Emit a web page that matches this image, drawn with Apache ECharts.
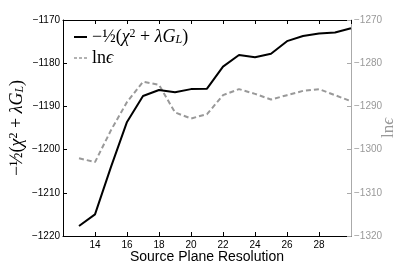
<!DOCTYPE html>
<html>
<head>
<meta charset="utf-8">
<script src="https://cdn.jsdelivr.net/npm/echarts@6/dist/echarts.min.js"></script>
<style>
html,body{margin:0;padding:0;background:#fff;}
#chart{width:399px;height:265px;}
</style>
</head>
<body>
<div id="chart"></div>
<script>
// Data
var resolution = [13,14,15,16,17,18,19,20,21,22,23,24,25,26,27,28,29,30];
var negHalfChi = [-1217.7,-1215.0,-1204.0,-1193.6,-1187.6,-1186.2,-1186.7,-1186.0,-1185.9,-1180.8,-1178.1,-1178.6,-1177.8,-1174.9,-1173.7,-1173.1,-1172.9,-1171.9];
var lnEvidence = [-1302.0,-1302.9,-1295.5,-1289.0,-1284.3,-1285.0,-1291.4,-1292.8,-1291.8,-1287.4,-1286.0,-1287.1,-1288.4,-1287.4,-1286.4,-1286.0,-1287.4,-1288.8];
var xRange = [12, 30];
var leftRange = [-1220, -1170];
var rightRange = [-1320, -1270];

var GRAY = '#999999';
var minus = function (v) { return String(v).replace('-', '\u2212'); };

var chart = echarts.init(document.getElementById('chart'), null, {renderer: 'canvas'});
var serif = 'Liberation Serif';
var rich = {
  n: {fontFamily: serif, fontSize: 18, color: '#000', lineHeight: 18},
  i: {fontFamily: serif, fontSize: 18, fontStyle: 'italic', color: '#000', lineHeight: 18},
  sup: {fontFamily: serif, fontSize: 12, color: '#000', verticalAlign: 'top', lineHeight: 18},
  sub: {fontFamily: serif, fontSize: 12, fontStyle: 'italic', color: '#000', verticalAlign: 'bottom', lineHeight: 18}
};
var nameA = '-1/2(chi2+lambdaGL)';
var nameB = 'ln eps';
var solidIcon = 'path://M0,0 M0,4 L13,4 L13,6 L0,6 Z M13,10';
var dashIcon = 'path://M0,0 M0,4.25 L3,4.25 L3,5.75 L0,5.75 Z M5,4.25 L8,4.25 L8,5.75 L5,5.75 Z M10,4.25 L13,4.25 L13,5.75 L10,5.75 Z M13,10';

chart.setOption({
  animation: false,
  backgroundColor: '#fff',
  grid: {left: 63, right: 48, top: 20, bottom: 29, containLabel: false, outerBoundsMode: 'none'},
  legend: {
    orient: 'vertical', left: 69, top: 23, itemGap: 3,
    itemWidth: 13, itemHeight: 10,
    data: [{name: nameA, icon: solidIcon}, {name: nameB, icon: dashIcon}],
    textStyle: {rich: rich, lineHeight: 18, fontFamily: serif, fontSize: 18},
    formatter: function (name) {
      if (name === nameA) return '{n|\u2212\u00BD(}{i|\u03C7}{sup|2}{n| + }{i|\u03BBG}{sub|L}{n|)}';
      return '{n|ln}{i|\u03F5}';
    }
  },
  xAxis: [{
    type: 'value', min: xRange[0], max: xRange[1], interval: 2,
    name: 'Source Plane Resolution', nameLocation: 'middle', nameGap: 14, nameMoveOverlap: false,
    nameTextStyle: {fontFamily: 'Liberation Sans', fontSize: 14, color: '#000'},
    axisLine: {lineStyle: {color: '#000', width: 1}},
    axisTick: {inside: true, length: 4, lineStyle: {color: '#000'}},
    axisLabel: {showMinLabel: false, showMaxLabel: false, margin: 4, fontFamily: 'Liberation Sans', fontSize: 10, color: '#000'},
    splitLine: {show: false}
  }, {
    type: 'value', position: 'top', min: xRange[0], max: xRange[1], interval: 2,
    axisLine: {lineStyle: {color: '#000', width: 1}},
    axisTick: {inside: true, length: 4, lineStyle: {color: '#000'}},
    axisLabel: {show: false}, splitLine: {show: false}
  }],
  yAxis: [{
    type: 'value', position: 'left', min: leftRange[0], max: leftRange[1], interval: 10,
    name: '{n|\u2212\u00BD(}{i|\u03C7}{sup|2}{n| + }{i|\u03BBG}{sub|L}{n|)}',
    nameLocation: 'middle', nameGap: 37, nameMoveOverlap: false,
    nameTextStyle: {rich: rich, fontFamily: serif, fontSize: 18},
    axisLine: {show: true, lineStyle: {color: '#000', width: 1}},
    axisTick: {show: true, inside: true, length: 4, lineStyle: {color: '#000'}},
    axisLabel: {margin: 3, fontFamily: 'Liberation Sans', fontSize: 10, color: '#000', formatter: minus},
    splitLine: {show: false}
  }, {
    type: 'value', position: 'right', min: rightRange[0], max: rightRange[1], interval: 10,
    name: '{g|ln}{gi|\u03F5}',
    nameLocation: 'middle', nameGap: 29, nameMoveOverlap: false,
    nameTextStyle: {rich: {
      g: {fontFamily: serif, fontSize: 17, color: GRAY},
      gi: {fontFamily: serif, fontSize: 17, fontStyle: 'italic', color: GRAY}
    }},
    axisLine: {show: true, lineStyle: {color: '#aaaaaa', width: 1}},
    axisTick: {show: true, inside: true, length: 4, lineStyle: {color: '#aaaaaa'}},
    axisLabel: {margin: 3, fontFamily: 'Liberation Sans', fontSize: 10, color: GRAY, formatter: minus},
    splitLine: {show: false}
  }],
  series: [{
    name: nameA, type: 'line', xAxisIndex: 0, yAxisIndex: 0,
    data: resolution.map(function (x, i) { return [x, negHalfChi[i]]; }),
    symbol: 'none', lineStyle: {color: '#000', width: 2},
    itemStyle: {color: '#000'}, z: 3
  }, {
    name: nameB, type: 'line', xAxisIndex: 0, yAxisIndex: 1,
    data: resolution.map(function (x, i) { return [x, lnEvidence[i]]; }),
    symbol: 'none', lineStyle: {color: GRAY, width: 2, type: [5, 3]},
    itemStyle: {color: GRAY}, z: 2
  }]
});
</script>
</body>
</html>
